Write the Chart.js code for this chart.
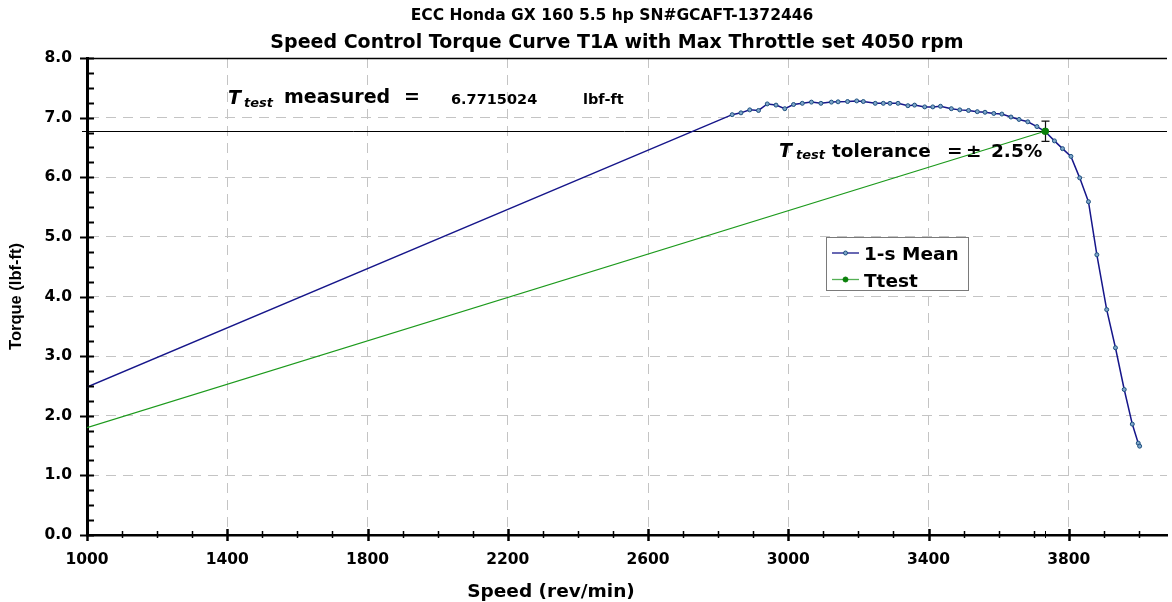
<!DOCTYPE html>
<html><head><meta charset="utf-8">
<script src="https://cdn.jsdelivr.net/npm/chart.js@4.4.1/dist/chart.umd.min.js"></script>
<style>html,body{margin:0;padding:0;background:#fff}#wrap{width:1172px;height:602px}</style>
</head><body><div id="wrap"><canvas id="c" width="1172" height="602"></canvas></div>
<script>
const titleTop = 'ECC Honda GX 160 5.5 hp SN#GCAFT-1372446';
const titleMain = 'Speed Control Torque Curve T1A with Max Throttle set 4050 rpm';
const xAxisTitle = 'Speed (rev/min)';
const yAxisTitle = 'Torque (lbf-ft)';
const legendLabels = ['1-s Mean', 'Ttest'];

const meanSpeed = [1000, 2840, 2865, 2890, 2915, 2940, 2965, 2990, 3015, 3040, 3066, 3093, 3123, 3142, 3169, 3195, 3214, 3248, 3271, 3290, 3313, 3341, 3360, 3389, 3412, 3434, 3465, 3489, 3514, 3539, 3561, 3586, 3609, 3635, 3658, 3683, 3709, 3732, 3759, 3782, 3806, 3831, 3856, 3880, 3908, 3933, 3958, 3981, 3998, 4002];
const meanTorque = [2.48, 7.05, 7.08, 7.13, 7.12, 7.23, 7.21, 7.15, 7.22, 7.24, 7.26, 7.24, 7.26, 7.265, 7.27, 7.28, 7.27, 7.24, 7.24, 7.24, 7.24, 7.20, 7.21, 7.18, 7.18, 7.19, 7.15, 7.13, 7.12, 7.10, 7.09, 7.07, 7.06, 7.01, 6.97, 6.93, 6.85, 6.7715, 6.61, 6.48, 6.35, 5.99, 5.59, 4.70, 3.78, 3.14, 2.44, 1.86, 1.54, 1.49];

const ttestSpeed = [1000, 3732];
const ttestTorque = [1.80, 6.7715024];
const ttestMeasured = 6.7715024;
const ttestMeasuredText = '6.7715024';
const tolerancePct = 2.5;

const xTickLabels = [1000, 1400, 1800, 2200, 2600, 3000, 3400, 3800];
const yTickLabels = [0, 1, 2, 3, 4, 5, 6, 7, 8];

const BLUE = '#16168a';
const GREEN = '#1c9a1c';
const GRID = '#c4c4c4';
const TF = '"DejaVu Sans", sans-serif';

function txt(ctx, s, x, y, font, align) {
  ctx.font = font; ctx.textAlign = align || 'left'; ctx.textBaseline = 'alphabetic';
  ctx.fillStyle = '#000'; ctx.fillText(s, x, y);
}

const decor = {
  id: 'decor',
  beforeDatasetsDraw(chart) {
    const {ctx, chartArea: a, scales: {y}} = chart;
    ctx.save();
    const yt = Math.round(y.getPixelForValue(ttestMeasured)) + 0.5;
    ctx.strokeStyle = '#000'; ctx.lineWidth = 1;
    ctx.beginPath(); ctx.moveTo(a.left - 5, yt); ctx.lineTo(a.right, yt); ctx.stroke();
    ctx.restore();
  },
  afterDraw(chart) {
    const {ctx, chartArea: a, scales: {x, y}} = chart;
    ctx.save();
    ctx.strokeStyle = '#000'; ctx.lineWidth = 1.5;
    ctx.beginPath(); ctx.moveTo(a.left, a.top + 0.5); ctx.lineTo(a.right, a.top + 0.5); ctx.stroke();
    ctx.lineWidth = 2;
    for (let v = 0; v <= 8.0001; v += 0.25) {
      const py = Math.round(y.getPixelForValue(v)) + 0.5;
      const major = Math.abs(v - Math.round(v)) < 1e-6;
      ctx.beginPath();
      ctx.moveTo(major ? a.left - 7 : a.left, py);
      ctx.lineTo(a.left + 7, py); ctx.stroke();
    }
    for (let v = 1000; v <= 4000; v += 100) {
      const px = Math.round(x.getPixelForValue(v)) + 0.5;
      const major = xTickLabels.includes(v);
      ctx.lineWidth = major ? 2.5 : 1.5;
      ctx.beginPath();
      ctx.moveTo(px, a.bottom - (major ? 6 : 4));
      ctx.lineTo(px, a.bottom + (major ? 6 : 3)); ctx.stroke();
    }
    const pxT = Math.round(x.getPixelForValue(ttestSpeed[1])) + 0.5;
    ctx.lineWidth = 1;
    ctx.beginPath(); ctx.moveTo(pxT, a.bottom - 4); ctx.lineTo(pxT, a.bottom + 3); ctx.stroke();

    const hi = y.getPixelForValue(ttestMeasured * (1 + tolerancePct / 100));
    const lo = y.getPixelForValue(ttestMeasured * (1 - tolerancePct / 100));
    ctx.lineWidth = 1.2; ctx.strokeStyle = '#111';
    ctx.beginPath();
    ctx.moveTo(pxT, hi); ctx.lineTo(pxT, lo);
    ctx.moveTo(pxT - 4, hi); ctx.lineTo(pxT + 4, hi);
    ctx.moveTo(pxT - 4, lo); ctx.lineTo(pxT + 4, lo);
    ctx.stroke();
    ctx.fillStyle = '#0a800a';
    ctx.beginPath(); ctx.arc(pxT, y.getPixelForValue(ttestTorque[1]), 3.5, 0, Math.PI * 2); ctx.fill();

    txt(ctx, titleTop, 612, 20, 'bold 15.5px ' + TF, 'center');
    txt(ctx, titleMain, 617, 48, 'bold 19px ' + TF, 'center');
    txt(ctx, xAxisTitle, 551, 597, 'bold 18.5px ' + TF, 'center');

    txt(ctx, 'T', 228, 104, 'italic bold 19px ' + TF);
    txt(ctx, 'test', 244, 107, 'italic bold 13px ' + TF);
    txt(ctx, 'measured', 284, 103, 'bold 19px ' + TF);
    txt(ctx, '=', 404, 103, 'bold 19px ' + TF);
    txt(ctx, ttestMeasuredText, 451, 104, 'bold 14.5px ' + TF);
    txt(ctx, 'lbf-ft', 583, 104, 'bold 14.5px ' + TF);
    txt(ctx, 'T', 779, 157, 'italic bold 19px ' + TF);
    txt(ctx, 'test', 796, 159, 'italic bold 13px ' + TF);
    txt(ctx, 'tolerance', 832, 157, 'bold 18.5px ' + TF);
    txt(ctx, '=', 947, 157, 'bold 18.5px ' + TF);
    txt(ctx, '\u00B1', 966, 157, 'bold 18.5px ' + TF);
    txt(ctx, tolerancePct.toFixed(1) + '%', 991, 157, 'bold 18.5px ' + TF);

    const lx = 826.5, ly = 237.5, lw = 142, lh = 53;
    ctx.fillStyle = '#fff'; ctx.fillRect(lx, ly, lw, lh);
    ctx.strokeStyle = '#7a7a7a'; ctx.lineWidth = 1; ctx.strokeRect(lx, ly, lw, lh);
    const rows = [{c: BLUE, pc: '#1d4f7f', pf: '#7fa6c9', y: 253, r: 2}, {c: '#55b055', pc: '#0a800a', pf: '#0a800a', y: 279.5, r: 2.5}];
    rows.forEach((r, i) => {
      ctx.strokeStyle = r.c; ctx.lineWidth = 1.3;
      ctx.beginPath(); ctx.moveTo(832, r.y); ctx.lineTo(859, r.y); ctx.stroke();
      ctx.fillStyle = r.pf; ctx.strokeStyle = r.pc; ctx.lineWidth = 1;
      ctx.beginPath(); ctx.arc(845.5, r.y, r.r, 0, Math.PI * 2); ctx.fill(); ctx.stroke();
      txt(ctx, legendLabels[i], 864, r.y + 7, 'bold 18.5px ' + TF);
    });
    ctx.restore();
  }
};

const meanData = meanSpeed.map((s, i) => ({x: s, y: meanTorque[i]}));
const ttestData = ttestSpeed.map((s, i) => ({x: s, y: ttestTorque[i]}));

new Chart(document.getElementById('c'), {
  type: 'line',
  data: {
    datasets: [
      {label: legendLabels[0], data: meanData, borderColor: BLUE, borderWidth: 1.5,
       pointRadius: meanData.map((d, i) => i === 0 ? 0 : 2), pointBorderWidth: 1,
       pointBorderColor: '#1d4f7f', pointBackgroundColor: '#7fa6c9', tension: 0, order: 2},
      {label: legendLabels[1], data: ttestData, borderColor: GREEN, borderWidth: 1.2,
       pointRadius: [0, 3.5], pointBorderWidth: 0, pointBackgroundColor: '#0a800a',
       pointBorderColor: '#0a800a', tension: 0, order: 1}
    ]
  },
  options: {
    responsive: false, animation: false, devicePixelRatio: 1,
    layout: {padding: {top: 58, left: 0, right: 0, bottom: 0}},
    plugins: {legend: {display: false}, tooltip: {enabled: false}, title: {display: false}},
    scales: {
      x: {
        type: 'linear', min: 1000, max: 4080,
        afterFit(s) { s.height = 67; s.paddingRight = 0; s.paddingLeft = 0; },
        ticks: {
          stepSize: 100, autoSkip: false, maxRotation: 0, includeBounds: false,
          color: '#000', font: {family: TF, weight: 'bold', size: 15.5}, padding: 16,
          callback: v => xTickLabels.includes(v) ? String(v) : ''
        },
        grid: {
          drawTicks: false, lineWidth: 1,
          color: c => (c.tick && xTickLabels.includes(c.tick.value) && c.tick.value !== 1000) ? GRID : 'rgba(0,0,0,0)'
        },
        border: {display: true, color: '#000', width: 2.5, dash: [10, 7]}
      },
      y: {
        type: 'linear', min: 0, max: 8,
        afterFit(s) { s.width = 87; },
        ticks: {
          stepSize: 0.25, autoSkip: false, color: '#000', padding: 15,
          font: {family: TF, weight: 'bold', size: 15.5},
          callback: v => yTickLabels.includes(v) ? v.toFixed(1) : ''
        },
        grid: {
          drawTicks: false, lineWidth: 1,
          color: c => (c.tick && Number.isInteger(c.tick.value) && c.tick.value > 0 && c.tick.value < 8) ? GRID : 'rgba(0,0,0,0)'
        },
        border: {display: true, color: '#000', width: 3, dash: [10, 7]},
        title: {display: true, text: yAxisTitle, color: '#000', font: {family: '"Liberation Sans", Arial, sans-serif', weight: 'bold', size: 16.5}, padding: {top: 7, bottom: 0}}
      }
    }
  },
  plugins: [decor]
});
</script></body></html>
